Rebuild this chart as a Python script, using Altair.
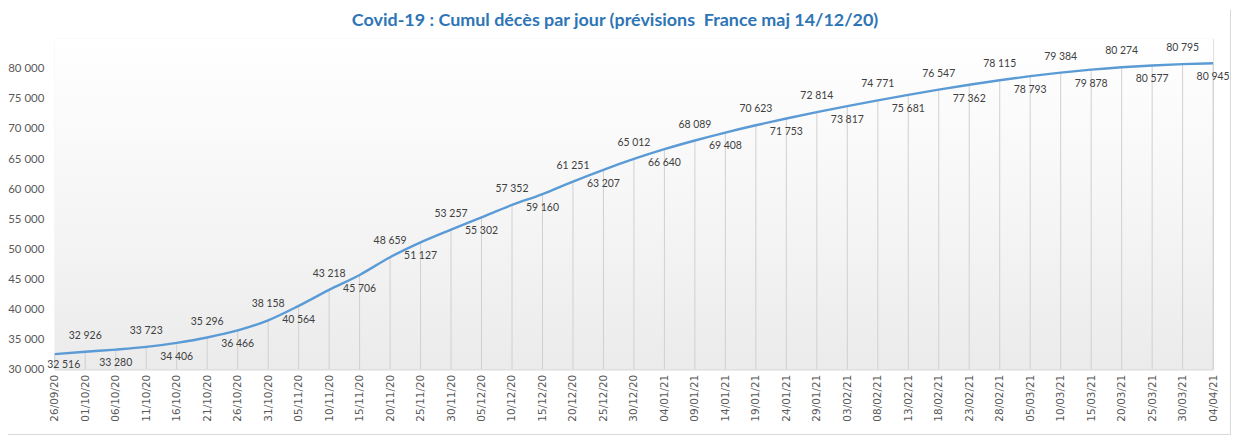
import altair as alt
import pandas as pd

dates = ["26/09/20", "01/10/20", "06/10/20", "11/10/20", "16/10/20", "21/10/20", "26/10/20",
         "31/10/20", "05/11/20", "10/11/20", "15/11/20", "20/11/20", "25/11/20", "30/11/20",
         "05/12/20", "10/12/20", "15/12/20", "20/12/20", "25/12/20", "30/12/20", "04/01/21",
         "09/01/21", "14/01/21", "19/01/21", "24/01/21", "29/01/21", "03/02/21", "08/02/21",
         "13/02/21", "18/02/21", "23/02/21", "28/02/21", "05/03/21", "10/03/21", "15/03/21",
         "20/03/21", "25/03/21", "30/03/21", "04/04/21"]
deaths = [32516, 32926, 33280, 33723, 34406, 35296, 36466, 38158, 40564, 43218, 45706,
          48659, 51127, 53257, 55302, 57352, 59160, 61251, 63207, 65012, 66640, 68089,
          69408, 70623, 71753, 72814, 73817, 74771, 75681, 76547, 77362, 78115, 78793,
          79384, 79878, 80274, 80577, 80795, 80945]
y_ticks = [30000, 35000, 40000, 45000, 50000, 55000, 60000, 65000, 70000, 75000, 80000]

df = pd.DataFrame({"date": dates, "deaths": deaths, "idx": list(range(len(dates)))})

W, H = 1164, 332
PL, PT, PR, PB = 47, 30, 19, 67
BLUE = "#5b9bd5"

x = alt.X("date:N", sort=dates,
          scale=alt.Scale(type="point", padding=0),
          axis=alt.Axis(title=None, labelAngle=-90, labelAlign="right", labelBaseline="middle",
                        labelFont="DejaVu Sans", labelFontSize=10.5, labelColor="#595959",
                        labelPadding=5, ticks=False, domainColor="#d9d9d9", grid=False))
y = alt.Y("deaths:Q",
          scale=alt.Scale(domain=[30000, 85000], nice=False, zero=False),
          axis=alt.Axis(title=None, values=y_ticks, grid=False, domain=False, ticks=False,
                        labelFont="Lato", labelFontSize=11.5, labelColor="#595959", labelPadding=11,
                        labelExpr="replace(format(datum.value, ',d'), ',', ' ')"))

base = alt.Chart(df)
one = alt.Chart(pd.DataFrame({"a": [0]}))

bg = one.mark_rect(
    color=alt.LinearGradient(gradient="linear", x1=0, x2=0, y1=0, y2=1,
                             stops=[alt.GradientStop(color="#ffffff", offset=0),
                                    alt.GradientStop(color="#f6f6f6", offset=0.5),
                                    alt.GradientStop(color="#ebebeb", offset=1)])
).encode(x=alt.value(0), x2=alt.value(W), y=alt.value(0), y2=alt.value(H))

# chart frame: bottom and right edges (top/left edges fall in the page margin)
border_bottom = one.mark_rule(color="#d9d9d9", strokeWidth=1).encode(
    x=alt.value(-PL), x2=alt.value(W + PR - 1.5),
    y=alt.value(H + PB - 1.5))
border_right = one.mark_rule(color="#d9d9d9", strokeWidth=1).encode(
    x=alt.value(W + PR - 1.5),
    y=alt.value(-PT + 0.5), y2=alt.value(H + PB - 1.5))

drops = base.mark_rule(color="#d0d0d0", strokeWidth=1).encode(
    x=x, y=y, y2=alt.datum(30000))

line = base.mark_line(color=BLUE, strokeWidth=2.4, interpolate="monotone").encode(x=x, y=y)

lab = base.transform_calculate(
    label="replace(format(datum.deaths, ',d'), ',', ' ')")
txt_style = dict(font="Lato", fontSize=10.5, color="#404040")
above = lab.transform_filter("datum.idx % 2 == 1").mark_text(dy=-16, **txt_style).encode(
    x=x, y=y, text="label:N")
below = lab.transform_filter("datum.idx % 2 == 0 && datum.idx > 0").mark_text(dy=14, **txt_style).encode(
    x=x, y=y, text="label:N")
first = lab.transform_filter("datum.idx == 0").mark_text(dy=11, dx=9, **txt_style).encode(
    x=x, y=y, text="label:N")

chart = alt.layer(bg, drops, line, above, below, first, border_bottom, border_right).properties(
    width=W, height=H,
    padding={"left": PL, "top": PT, "right": PR, "bottom": PB},
    autosize=alt.AutoSizeParams(type="none"),
    title=alt.TitleParams("Covid-19 : Cumul décès par jour (prévisions\u00a0 France maj 14/12/20)",
                          font="Lato", fontSize=18, fontWeight="bold", color="#2e75b6",
                          anchor="middle", offset=-21, dx=-19),
).configure_view(stroke=None).configure(background="white")

chart.save("out.html", embed_options={"renderer": "svg", "actions": False})
